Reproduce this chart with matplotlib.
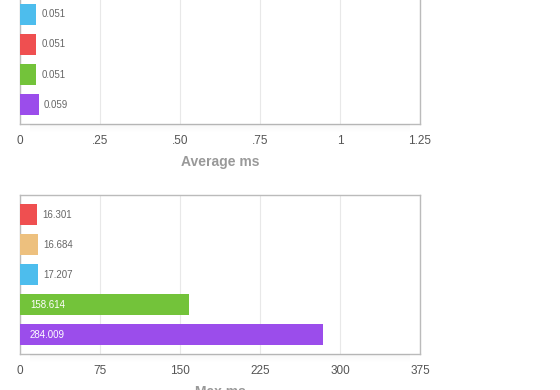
import numpy as np
import matplotlib
matplotlib.use("Agg")
import matplotlib.pyplot as plt
from matplotlib.patches import Rectangle

plt.rcParams['font.family'] = ['Liberation Sans', 'DejaVu Sans']

# top chart (its first row is cut off above the picture)
avg_colors = ["#4DBDED", "#EF4F50", "#73C33A", "#9B4DEB"]
avg_values = [0.051, 0.051, 0.051, 0.059]
avg_ticks = [0, 0.25, 0.5, 0.75, 1, 1.25]
avg_ticklabels = ["0", ".25", ".50", ".75", "1", "1.25"]

# bottom chart
max_colors = ["#EF4F50", "#EDC07E", "#4DBDED", "#73C33A", "#9B4DEB"]
max_values = [16.301, 16.684, 17.207, 158.614, 284.009]
max_ticks = [0, 75, 150, 225, 300, 375]
max_ticklabels = ["0", "75", "150", "225", "300", "375"]

W, H = 560, 390
fig = plt.figure(figsize=(W / 100, H / 100), dpi=100)


def px_axes(left, top, width, height):
    return fig.add_axes([left / W, 1 - (top + height) / H, width / W, height / H])


def style(ax, ticks, labels, xmax, xlabel):
    ax.set_xlim(0, xmax)
    ax.set_ylim(4.65, -0.65)
    ax.set_xticks(ticks)
    ax.set_xticklabels(labels, fontsize=8.5, color="#555555")
    ax.set_yticks([])
    ax.tick_params(axis="x", length=0, pad=8)
    for s in ax.spines.values():
        s.set_color("#BBBBBB")
        s.set_linewidth(1)
    ax.grid(axis="x", color="#E8E8E8", linewidth=0.8)
    ax.set_axisbelow(True)
    ax.set_xlabel(xlabel, fontsize=10, color="#999999", fontweight="bold", labelpad=6)


def shadow(left, top, width):
    # soft shadow under the chart box
    for i in range(8):
        fig.patches.append(Rectangle(((left + 10) / W, 1 - (top + i + 1) / H),
                                     (width - 20) / W, 1 / H,
                                     transform=fig.transFigure,
                                     color="#000000", alpha=0.03 * (8 - i) / 8,
                                     zorder=0, linewidth=0))


def bars(ax, positions, values, colors, xmax, inside_min):
    ax.barh(positions, values, height=0.667, color=colors, zorder=3)
    for y, v in zip(positions, values):
        txt = f"{v:.3f}"
        if v > inside_min:
            ax.text(xmax * 0.025, y, txt, va="center", ha="left", fontsize=7,
                    color="white", zorder=4)
        else:
            ax.text(v + xmax * 0.013, y, txt, va="center", ha="left", fontsize=7,
                    color="#666666", zorder=4)


ax1 = px_axes(20, -35, 400, 159)
style(ax1, avg_ticks, avg_ticklabels, 1.25, "Average ms")
bars(ax1, [1, 2, 3, 4], avg_values, avg_colors, 1.25, 0.5)
shadow(20, 124, 400)

ax2 = px_axes(20, 195, 400, 159)
style(ax2, max_ticks, max_ticklabels, 375, "Max ms")
bars(ax2, [0, 1, 2, 3, 4], max_values, max_colors, 375, 100)
shadow(20, 354, 400)

fig.savefig("out.png", dpi=100)
